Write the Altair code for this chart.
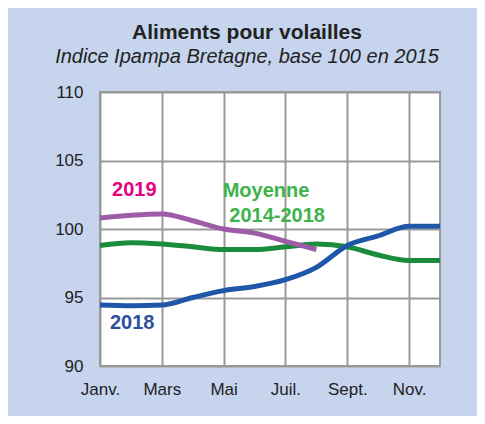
import altair as alt
import pandas as pd

month_labels = ["Janv.", "Févr.", "Mars", "Avr.", "Mai", "Juin", "Juil.", "Août", "Sept.", "Oct.", "Nov.", "Déc."]
month_idx = list(range(12))

moyenne = [98.8, 99.0, 98.9, 98.7, 98.5, 98.5, 98.7, 98.9, 98.7, 98.1, 97.7, 97.7]
y2018 = [94.45, 94.4, 94.45, 95.0, 95.5, 95.8, 96.3, 97.2, 98.8, 99.5, 100.2, 100.2]
y2019 = [100.8, 101.0, 101.1, 100.6, 100.0, 99.7, 99.1, 98.5]

y_ticks = [90, 95, 100, 105, 110]

def frame(vals):
    return pd.DataFrame({"m": month_idx[:len(vals)], "v": vals})

shown = [lab if i % 2 == 0 else "" for i, lab in enumerate(month_labels)]
label_expr = "[" + ",".join("'" + s + "'" for s in shown) + "][datum.value]"

FONT = "Liberation Sans"

x_enc = alt.X("m:Q", scale=alt.Scale(domain=[0, 11], nice=False, zero=False),
              axis=alt.Axis(values=month_idx, labelExpr=label_expr, title=None,
                            grid=True, ticks=False, domain=False, labelPadding=15,
                            labelFontSize=17, labelColor="#222222", labelFont=FONT,
                            gridColor="#999999", gridWidth=2, labelFlush=False))
y_enc = alt.Y("v:Q", scale=alt.Scale(domain=[90, 110], nice=False, zero=False),
              axis=alt.Axis(values=y_ticks, title=None, grid=True, ticks=False,
                            domain=False, labelPadding=17, labelFontSize=17,
                            labelColor="#222222", labelFont=FONT,
                            gridColor="#999999", gridWidth=2))

def line(vals, color):
    return alt.Chart(frame(vals)).mark_line(
        color=color, strokeWidth=5, interpolate="monotone", strokeCap="butt"
    ).encode(x=x_enc, y=y_enc)

def label(text, m, v, color, align):
    return alt.Chart(pd.DataFrame({"t": [text]})).mark_text(
        color=color, font=FONT, fontSize=20, fontWeight="bold",
        align=align, baseline="alphabetic"
    ).encode(x=alt.datum(m), y=alt.datum(v), text="t:N")

chart = alt.layer(
    line(moyenne, "#1a8c3c"),
    line(y2019, "#9e5ba8"),
    line(y2018, "#1f57a8"),
    label("2019", 0.39, 102.43, "#e6007e", "left"),
    label("Moyenne", 5.37, 102.34, "#3db34a", "center"),
    label("2014-2018", 5.73, 100.51, "#3db34a", "center"),
    label("2018", 0.32, 92.7, "#2e4f9e", "left"),
).properties(
    width=340, height=274,
    autosize=alt.AutoSizeParams(type="none"),
    padding={"left": 92, "top": 84, "right": 37, "bottom": 50},
    title=alt.TitleParams(
        text="Aliments pour volailles",
        subtitle="Indice Ipampa Bretagne, base 100 en 2015",
        font=FONT, fontSize=21, fontWeight="bold", color="#222222",
        subtitleFont=FONT, subtitleFontSize=20, subtitleFontStyle="italic",
        subtitleColor="#222222", subtitlePadding=4,
        anchor="middle", frame="group", dx=-23, offset=16,
    ),
).configure(background="#c6d4ee").configure_view(
    fill="white", stroke="#999999", strokeWidth=2
)

chart.save("out.html", embed_options={"renderer": "svg", "actions": False})
